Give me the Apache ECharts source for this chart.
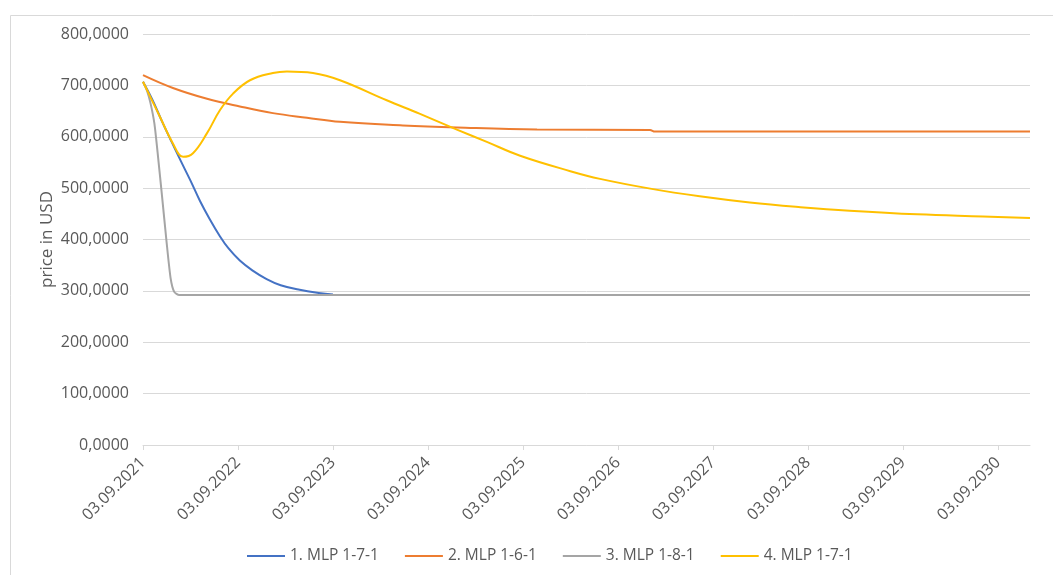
<!DOCTYPE html>
<html>
<head>
<meta charset="utf-8">
<script src="https://cdn.jsdelivr.net/npm/echarts@6/dist/echarts.min.js"></script>
<style>
  html, body { margin: 0; padding: 0; background: #fff; }
  #chart { width: 1053px; height: 575px; }
</style>
</head>
<body>
<div id="chart"></div>
<script>
// tick labels on the date axis
const tickDates = ['03.09.2021', '03.09.2022', '03.09.2023', '03.09.2024', '03.09.2025',
  '03.09.2026', '03.09.2027', '03.09.2028', '03.09.2029', '03.09.2030'];
const axisStart = '2021-09-03';
const axisEnd = '2031-01-04';

// 1. MLP 1-7-1 (blue)
const blueDates = ['2021-09-03', '2021-10-09', '2021-11-15', '2021-12-22', '2022-01-27', '2022-03-04',
  '2022-04-10', '2022-05-17', '2022-06-26', '2022-07-28', '2022-09-10', '2022-10-28', '2022-12-22',
  '2023-02-14', '2023-04-28', '2023-07-10', '2023-09-03'];
const blueValues = [707, 672, 630, 590, 552, 515, 475, 440, 406, 383, 359, 340, 323, 311, 302, 296, 293];

// 2. MLP 1-6-1 (orange)
const orangeDates = ['2021-09-03', '2021-12-27', '2022-05-07', '2022-09-10', '2023-01-15', '2023-05-26',
  '2023-09-30', '2024-05-29', '2024-12-23', '2025-10-27', '2027-01-04', '2027-01-23', '2031-01-04'];
const orangeValues = [720, 695, 674, 659, 646, 637, 629, 622, 618, 614, 613, 610, 610];

// 3. MLP 1-8-1 (gray)
const grayDates = ['2021-09-03', '2021-09-18', '2021-10-02', '2021-10-17', '2021-10-31', '2021-11-15',
  '2021-12-03', '2021-12-18', '2022-01-01', '2022-01-20', '2022-09-03', '2031-01-04'];
const grayValues = [707, 690, 665, 625, 560, 485, 393, 325, 298, 292, 292, 292];

// 4. MLP 1-7-1 (yellow)
const yellowDates = ['2021-09-03', '2021-11-07', '2021-12-27', '2022-02-04', '2022-03-14', '2022-05-07',
  '2022-06-26', '2022-08-15', '2022-10-19', '2023-01-15', '2023-03-10', '2023-06-18', '2023-09-30',
  '2024-03-28', '2024-08-01', '2024-12-23', '2025-04-17', '2025-08-23', '2026-03-04', '2026-06-26',
  '2027-01-05', '2027-07-14', '2028-01-23', '2028-08-05', '2029-02-10', '2029-10-28', '2030-07-07', '2031-01-04'];
const yellowValues = [707, 639, 587, 561, 568, 607, 652, 684, 710, 724, 727, 724, 710,
  671, 645, 614, 590, 563, 533, 518, 499, 484, 472, 463, 456, 449, 445, 442];

// position on the axis: whole numbers fall on 03.09 of each year
function toYears(s) {
  const p = s.split('-').map(Number);
  let y = p[0];
  const t = Date.UTC(p[0], p[1] - 1, p[2]);
  if (t < Date.UTC(y, 8, 3)) y -= 1;
  const a = Date.UTC(y, 8, 3);
  const b = Date.UTC(y + 1, 8, 3);
  return (y - 2021) + (t - a) / (b - a);
}
function pairs(dates, values) {
  return dates.map((d, i) => [toYears(d), values[i]]);
}

const chart = echarts.init(document.getElementById('chart'));
const tickPos = tickDates.map((d, i) => i);

const option = {
  animation: false,
  textStyle: {fontFamily: 'Open Sans'},
  graphic: [{
    type: 'rect',
    left: 8, top: 13,
    shape: {width: 1100, height: 620},
    style: {fill: 'none', stroke: '#d9d9d9', lineWidth: 1}
  }],
  grid: {left: 143, right: 23, top: 34, bottom: 130},
  legend: {
    left: 242,
    top: 543,
    icon: 'rect',
    itemWidth: 38,
    itemHeight: 2,
    itemGap: 26,
    textStyle: {color: '#595959', fontSize: 15.5, fontFamily: 'Open Sans'},
    data: ['1. MLP 1-7-1', '2. MLP 1-6-1', '3. MLP 1-8-1', '4. MLP 1-7-1 ']
  },
  xAxis: {
    type: 'value',
    min: toYears(axisStart),
    max: toYears(axisEnd),
    axisLine: {lineStyle: {color: '#d9d9d9', width: 1}},
    axisTick: {show: true, length: 5, lineStyle: {color: '#d9d9d9'}, customValues: tickPos},
    splitLine: {show: false},
    axisLabel: {
      customValues: tickPos,
      rotate: 45,
      margin: 15,
      color: '#595959',
      fontSize: 16,
      fontFamily: 'Open Sans',
      formatter: function (v) {
        return tickDates[Math.round(v)] || '';
      }
    }
  },
  yAxis: {
    type: 'value',
    min: 0,
    max: 800,
    interval: 100,
    name: 'price in USD',
    nameLocation: 'middle',
    nameGap: 87,
    nameMoveOverlap: false,
    nameTextStyle: {color: '#595959', fontSize: 17, fontFamily: 'Open Sans'},
    axisLine: {show: false},
    axisTick: {show: false},
    splitLine: {lineStyle: {color: '#d9d9d9', width: 1}},
    axisLabel: {
      color: '#595959',
      fontSize: 16,
      fontFamily: 'Open Sans',
      margin: 14,
      formatter: function (v) {
        return v.toFixed(4).replace('.', ',');
      }
    }
  },
  series: [
    {
      name: '1. MLP 1-7-1',
      type: 'line',
      data: pairs(blueDates, blueValues),
      symbol: 'none',
      smooth: 0.4,
      lineStyle: {color: '#4472C4', width: 2},
      itemStyle: {color: '#4472C4'}
    },
    {
      name: '2. MLP 1-6-1',
      type: 'line',
      data: pairs(orangeDates, orangeValues),
      symbol: 'none',
      smooth: 0.4,
      lineStyle: {color: '#ED7D31', width: 2},
      itemStyle: {color: '#ED7D31'}
    },
    {
      name: '3. MLP 1-8-1',
      type: 'line',
      data: pairs(grayDates, grayValues),
      symbol: 'none',
      smooth: 0.2,
      lineStyle: {color: '#A5A5A5', width: 2},
      itemStyle: {color: '#A5A5A5'}
    },
    {
      name: '4. MLP 1-7-1 ',
      type: 'line',
      data: pairs(yellowDates, yellowValues),
      symbol: 'none',
      smooth: 0.4,
      lineStyle: {color: '#FFC000', width: 2},
      itemStyle: {color: '#FFC000'}
    }
  ]
};

chart.setOption(option);
</script>
</body>
</html>
